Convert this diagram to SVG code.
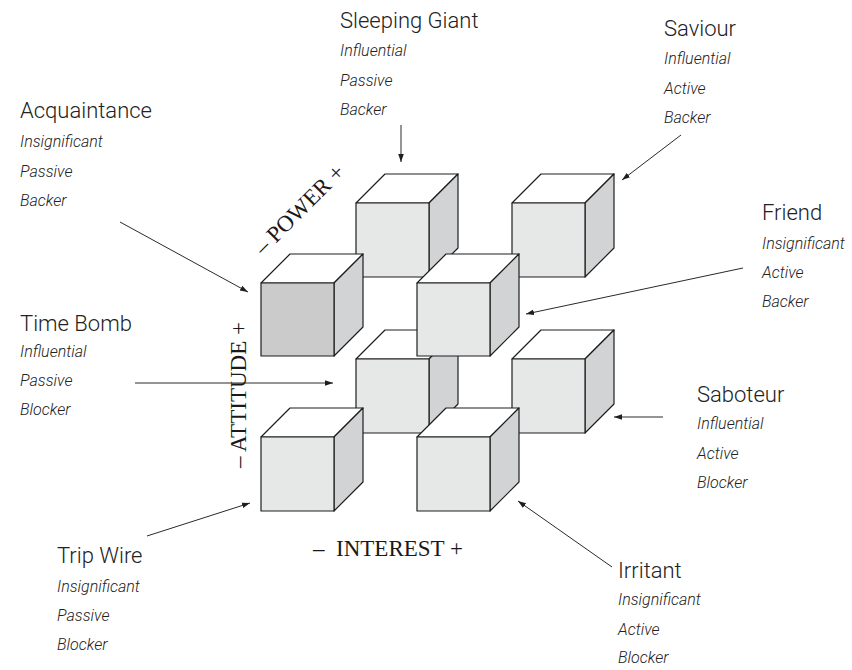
<svg xmlns="http://www.w3.org/2000/svg" width="852" height="670" viewBox="0 0 852 670">
<defs>
<style>
.bg{fill:#ffffff}
.front{fill:#e6e7e7;stroke:#1e1e1e;stroke-width:1.2;stroke-linejoin:round}
.front.dark{fill:#cbcbcb}
.top{fill:#ffffff;stroke:#1e1e1e;stroke-width:1.2;stroke-linejoin:round}
.side{fill:#d2d3d4;stroke:#1e1e1e;stroke-width:1.2;stroke-linejoin:round}
.title{font-family:Roboto,"Liberation Sans",sans-serif;font-weight:300;font-size:22px;fill:#222}
.sub{font-family:Roboto,"Liberation Sans",sans-serif;font-weight:300;font-style:italic;font-size:16px;fill:#222}
.axis{font-family:"Liberation Serif","DejaVu Serif",serif;font-size:23px;fill:#1a1a1a}
.conn{stroke:#2a2a2a;stroke-width:1;fill:none;marker-end:url(#ah)}
</style>
<marker id="ah" viewBox="0 0 10 10" refX="10" refY="5" markerWidth="8" markerHeight="8" markerUnits="userSpaceOnUse" orient="auto">
<path d="M0,1.5 L10,5 L0,8.5 Z" fill="#1e1e1e"/>
</marker>
</defs>
<rect class="bg" x="0" y="0" width="852" height="670"/>

<g id="sleeping-giant-cube" transform="translate(356,203)">
<path class="top" d="M0,0 L29,-29 L102,-29 L73,0 Z"/>
<path class="side" d="M73,0 L102,-29 L102,45 L73,74 Z"/>
<rect class="front" x="0" y="0" width="73" height="74"/>
</g>
<g id="saviour-cube" transform="translate(512,203)">
<path class="top" d="M0,0 L29,-29 L102,-29 L73,0 Z"/>
<path class="side" d="M73,0 L102,-29 L102,45 L73,74 Z"/>
<rect class="front" x="0" y="0" width="73" height="74"/>
</g>
<g id="time-bomb-cube" transform="translate(356,359)">
<path class="top" d="M0,0 L29,-29 L102,-29 L73,0 Z"/>
<path class="side" d="M73,0 L102,-29 L102,45 L73,74 Z"/>
<rect class="front" x="0" y="0" width="73" height="74"/>
</g>
<g id="saboteur-cube" transform="translate(512,359)">
<path class="top" d="M0,0 L29,-29 L102,-29 L73,0 Z"/>
<path class="side" d="M73,0 L102,-29 L102,45 L73,74 Z"/>
<rect class="front" x="0" y="0" width="73" height="74"/>
</g>
<g id="acquaintance-cube" transform="translate(261,283)">
<path class="top" d="M0,0 L29,-29 L102,-29 L73,0 Z"/>
<path class="side" d="M73,0 L102,-29 L102,44 L73,73 Z"/>
<rect class="front dark" x="0" y="0" width="73" height="73"/>
</g>
<g id="friend-cube" transform="translate(417,283)">
<path class="top" d="M0,0 L29,-29 L102,-29 L73,0 Z"/>
<path class="side" d="M73,0 L102,-29 L102,44 L73,73 Z"/>
<rect class="front" x="0" y="0" width="73" height="73"/>
</g>
<g id="trip-wire-cube" transform="translate(261,437)">
<path class="top" d="M0,0 L29,-29 L102,-29 L73,0 Z"/>
<path class="side" d="M73,0 L102,-29 L102,45 L73,74 Z"/>
<rect class="front" x="0" y="0" width="73" height="74"/>
</g>
<g id="irritant-cube" transform="translate(417,437)">
<path class="top" d="M0,0 L29,-29 L102,-29 L73,0 Z"/>
<path class="side" d="M73,0 L102,-29 L102,45 L73,74 Z"/>
<rect class="front" x="0" y="0" width="73" height="74"/>
</g>

<g id="axes">
<text class="axis" transform="translate(301,211) rotate(-45)" text-anchor="middle" dominant-baseline="middle">– POWER +</text>
<text class="axis" transform="translate(241,395) rotate(-90)" text-anchor="middle" dominant-baseline="middle">– ATTITUDE +</text>
<text class="axis" x="388" y="556" text-anchor="middle" xml:space="preserve">–  INTEREST +</text>
</g>

<g id="label-sleeping-giant">
<text class="title" x="340" y="28">Sleeping Giant</text>
<text class="sub" x="340" y="56">Influential</text>
<text class="sub" x="340" y="86">Passive</text>
<text class="sub" x="340" y="115">Backer</text>
</g>
<g id="label-saviour">
<text class="title" x="664" y="36">Saviour</text>
<text class="sub" x="664" y="64">Influential</text>
<text class="sub" x="664" y="94">Active</text>
<text class="sub" x="664" y="123">Backer</text>
</g>
<g id="label-acquaintance">
<text class="title" x="20" y="118">Acquaintance</text>
<text class="sub" x="20" y="147">Insignificant</text>
<text class="sub" x="20" y="177">Passive</text>
<text class="sub" x="20" y="206">Backer</text>
</g>
<g id="label-friend">
<text class="title" x="762" y="220">Friend</text>
<text class="sub" x="762" y="249">Insignificant</text>
<text class="sub" x="762" y="278">Active</text>
<text class="sub" x="762" y="307">Backer</text>
</g>
<g id="label-time-bomb">
<text class="title" x="20" y="331">Time Bomb</text>
<text class="sub" x="20" y="357">Influential</text>
<text class="sub" x="20" y="386">Passive</text>
<text class="sub" x="20" y="415">Blocker</text>
</g>
<g id="label-saboteur">
<text class="title" x="697" y="402">Saboteur</text>
<text class="sub" x="697" y="429">Influential</text>
<text class="sub" x="697" y="459">Active</text>
<text class="sub" x="697" y="488">Blocker</text>
</g>
<g id="label-trip-wire">
<text class="title" x="57" y="563">Trip Wire</text>
<text class="sub" x="57" y="592">Insignificant</text>
<text class="sub" x="57" y="621">Passive</text>
<text class="sub" x="57" y="650">Blocker</text>
</g>
<g id="label-irritant">
<text class="title" x="618" y="578">Irritant</text>
<text class="sub" x="618" y="605">Insignificant</text>
<text class="sub" x="618" y="635">Active</text>
<text class="sub" x="618" y="663">Blocker</text>
</g>

<g id="connectors">
<line class="conn" x1="401" y1="125" x2="401" y2="162"/>
<line class="conn" x1="681" y1="135" x2="622" y2="180"/>
<line class="conn" x1="120" y1="222" x2="248" y2="292"/>
<line class="conn" x1="743" y1="268" x2="526" y2="314"/>
<line class="conn" x1="135" y1="383" x2="333" y2="383"/>
<line class="conn" x1="663" y1="417" x2="614" y2="417"/>
<line class="conn" x1="147" y1="536" x2="250" y2="503"/>
<line class="conn" x1="612" y1="567" x2="518" y2="501"/>
</g>
</svg>
